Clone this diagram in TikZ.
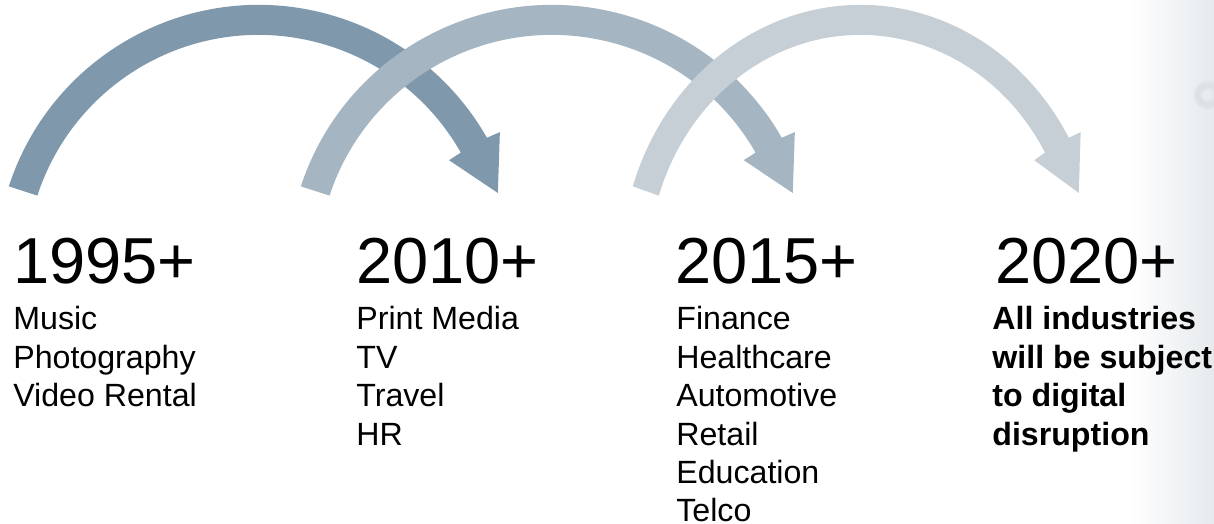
\documentclass[tikz,border=0pt]{standalone}
\usepackage{fontspec}
\setmainfont{Liberation Sans}
\usetikzlibrary{positioning, calc}
\definecolor{arcone}{HTML}{7F98AB}
\definecolor{arctwo}{HTML}{A5B6C2}
\definecolor{arcthree}{HTML}{C6CFD6}
\definecolor{bgtint}{HTML}{E6EAED}
\definecolor{ringtint}{HTML}{DCE2E4}

\begin{document}
\begin{tikzpicture}[x=0.02cm, y=0.02cm,
    year/.style={inner sep=0, anchor=base west, font=\fontsize{37}{44}\selectfont},
    item/.style={inner sep=0, anchor=base west, font=\fontsize{18.3}{22}\selectfont},
    bolditem/.style={item, font=\fontsize{18.3}{22}\selectfont\bfseries}]
    \useasboundingbox (0,0) rectangle (1214,524);
    \shade[left color=white, right color=bgtint] (1130,0) rectangle (1214,524);
    \draw[ringtint, line width=5pt, opacity=0.6] (1208,429) circle[radius=10];
    \draw[ringtint, line width=2.5pt] (1208,429) circle[radius=10];

    \foreach \cx/\sx/\col in {258.6/1/arcone, 552.1/1.006/arctwo, 860.6/0.912/arcthree}
        \fill[\col, shift={(\cx,256.5)}, xscale=\sx]
            (162:262.6) arc[start angle=162, end angle=29.6, radius=262.6]
            -- (29.3:276.7) -- (17.3:250.6) -- (29.4:218.6) -- (29.6:232.6)
            arc[start angle=29.6, end angle=162, radius=232.6] -- cycle;

    \node[year] (y1995) at (13,240) {1995+};
    \node[year] (y2010) at (356,240) {2010+};
    \node[year] (y2015) at (675,240) {2015+};
    \node[year] (y2020) at (995,240) {2020+};

    \foreach \t [count=\i] in {Music, Photography, Video Rental}
        \node[item] (a\i) at (13,{194-(\i-1)*38.4}) {\t};
    \foreach \t [count=\i] in {Print Media, TV, Travel, HR}
        \node[item] (b\i) at (356,{194-(\i-1)*38.4}) {\t};
    \foreach \t [count=\i] in {Finance, Healthcare, Automotive, Retail, Education, Telco}
        \node[item] (c\i) at (676,{194-(\i-1)*38.4}) {\t};
    \foreach \t [count=\i] in {All industries, will be subject, to digital, disruption}
        \node[bolditem] (d\i) at (992,{194-(\i-1)*38.4}) {\t};
\end{tikzpicture}
\end{document}
